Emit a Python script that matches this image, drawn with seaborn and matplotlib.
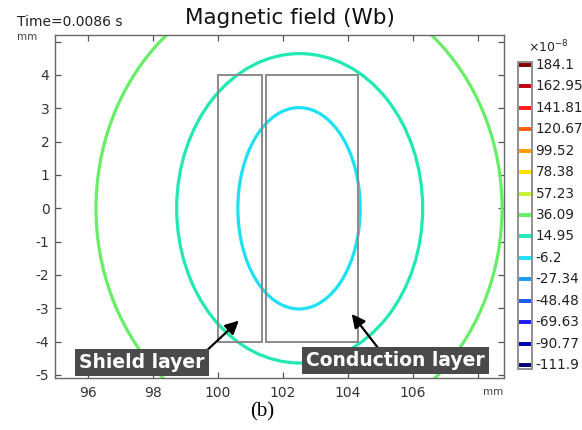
import numpy as np
import matplotlib
matplotlib.use("Agg")
import matplotlib.pyplot as plt
import matplotlib.transforms as mtransforms
from matplotlib.patches import Ellipse, Rectangle
import seaborn as sns

# colour legend levels (x1e-8 Wb), from top to bottom
levels = [184.1, 162.95, 141.81, 120.67, 99.52, 78.38, 57.23, 36.09,
          14.95, -6.2, -27.34, -48.48, -69.63, -90.77, -111.9]
level_colors = ["#800000", "#c00010", "#ff1a1a", "#ff5a10", "#ff9a00",
                "#ffe000", "#c8f030", "#66ee66", "#22e8b4", "#1ee0f5",
                "#1a9af0", "#1a5af0", "#1a1aee", "#0000b0", "#000070"]

# contour lines visible in the window (mm): level, centre, half width, half height
contour_levels = [36.09, 14.95, -6.2]
contour_cx = [102.5, 102.52, 102.5]
contour_cy = [0.0, 0.0, 0.0]
contour_rx = [6.24, 3.78, 1.88]
contour_ry = [6.86, 4.64, 3.02]

# coil layers (mm)
layer_names = ["Shield layer", "Conduction layer"]
layer_x = [100.0, 101.5]
layer_y = [-4.0, -4.0]
layer_w = [1.37, 2.8]
layer_h = [8.0, 8.0]

x_ticks = [96, 98, 100, 102, 104, 106, 108]
x_ticklabels = ["96", "98", "100", "102", "104", "106", ""]
y_ticks = [-5, -4, -3, -2, -1, 0, 1, 2, 3, 4, 5]
y_ticklabels = ["-5", "-4", "-3", "-2", "-1", "0", "1", "2", "3", "4", ""]

sns.set_theme(style="ticks")
plt.rcParams["font.family"] = ["DejaVu Sans"]

fig = plt.figure(figsize=(5.82, 4.30), dpi=100)
ax = fig.add_axes([0.0945, 0.121, 0.7715, 0.7977])

color_of = dict(zip(levels, level_colors))
for lev, cx, cy, rx, ry in zip(contour_levels, contour_cx, contour_cy, contour_rx, contour_ry):
    ax.add_patch(Ellipse((cx, cy), 2 * rx, 2 * ry, fill=False,
                         ec=color_of[lev], lw=2.3, zorder=2))

for x0, y0, w, h in zip(layer_x, layer_y, layer_w, layer_h):
    ax.add_patch(Rectangle((x0, y0), w, h, fill=False, ec="#8a8a8a", lw=1.4, zorder=3))

ax.set_xlim(95.0, 108.8)
ax.set_ylim(-5.09, 5.2)
ax.set_xticks(x_ticks)
ax.set_xticklabels(x_ticklabels)
ax.set_yticks(y_ticks)
ax.set_yticklabels(y_ticklabels)
ax.tick_params(direction="in", top=True, right=True, length=4, width=0.9,
               color="#555555", labelsize=10, labelcolor="#333333")
ax.tick_params(axis="x", pad=6)
ax.tick_params(axis="y", pad=4)
for sp in ax.spines.values():
    sp.set_color("#666666")
    sp.set_linewidth(1.0)
ax.set_xlabel("")
ax.set_ylabel("")

# labels with arrows
label_xy = [(97.68, -4.62), (105.46, -4.57)]
arrow_tail = [(99.66, -4.27), (104.92, -4.18)]
arrow_tip = [(100.65, -3.37), (104.12, -3.17)]
for name, (tx, ty), tail, tip in zip(layer_names, label_xy, arrow_tail, arrow_tip):
    ax.annotate("", xy=tip, xytext=tail,
                arrowprops=dict(arrowstyle="-|>", color="black", lw=1.6,
                                mutation_scale=20, shrinkA=0, shrinkB=0), zorder=5)
    ax.text(tx, ty, name, ha="center", va="center", color="white",
            fontsize=13.5, fontweight="bold", zorder=6,
            bbox=dict(boxstyle="square,pad=0.22", fc="#4a4a4a", ec="none"))

fig.text(17 / 582, 1 - 22 / 430, "Time=0.0086 s", fontsize=10, color="#222222", va="center")
fig.text(0.498, 1 - 18 / 430, "Magnetic field (Wb)", fontsize=15.5, color="#111111",
         ha="center", va="center")
fig.text(17 / 582, 1 - 37 / 430, "mm", fontsize=7.5, color="#444444", va="center")
fig.text(493 / 582, 1 - 392 / 430, "mm", fontsize=7.5, color="#444444", ha="center", va="center")
fig.text(262 / 582, 1 - 412 / 430, "(b)", fontsize=15, family=["Liberation Serif"],
         color="black", ha="center", va="center")

# colour legend
cb = fig.add_axes([518 / 582, 1 - 369 / 430, 14 / 582, 307 / 430])
n = len(levels)
pos = np.arange(n)[::-1]
cb.hlines(pos, 0.05, 1.1, colors=level_colors, lw=2.8, clip_on=False)
cb.set_xlim(0, 1)
cb.set_ylim(-0.19, n - 1 + 0.14)
cb.set_xticks([])
cb.set_yticks([])
for sp in cb.spines.values():
    sp.set_color("#909090")
    sp.set_linewidth(1.4)
trans = mtransforms.blended_transform_factory(cb.transAxes, cb.transData)
for p, lev in zip(pos, levels):
    cb.text(1.25, p, f"{lev:g}", transform=trans, fontsize=9.8, color="#222222",
            va="center", ha="left")
fig.text(528 / 582, 1 - 47 / 430, r"$\times10^{-8}$", fontsize=9, color="#222222",
         ha="left", va="center")

fig.savefig("out.png", dpi=100)
